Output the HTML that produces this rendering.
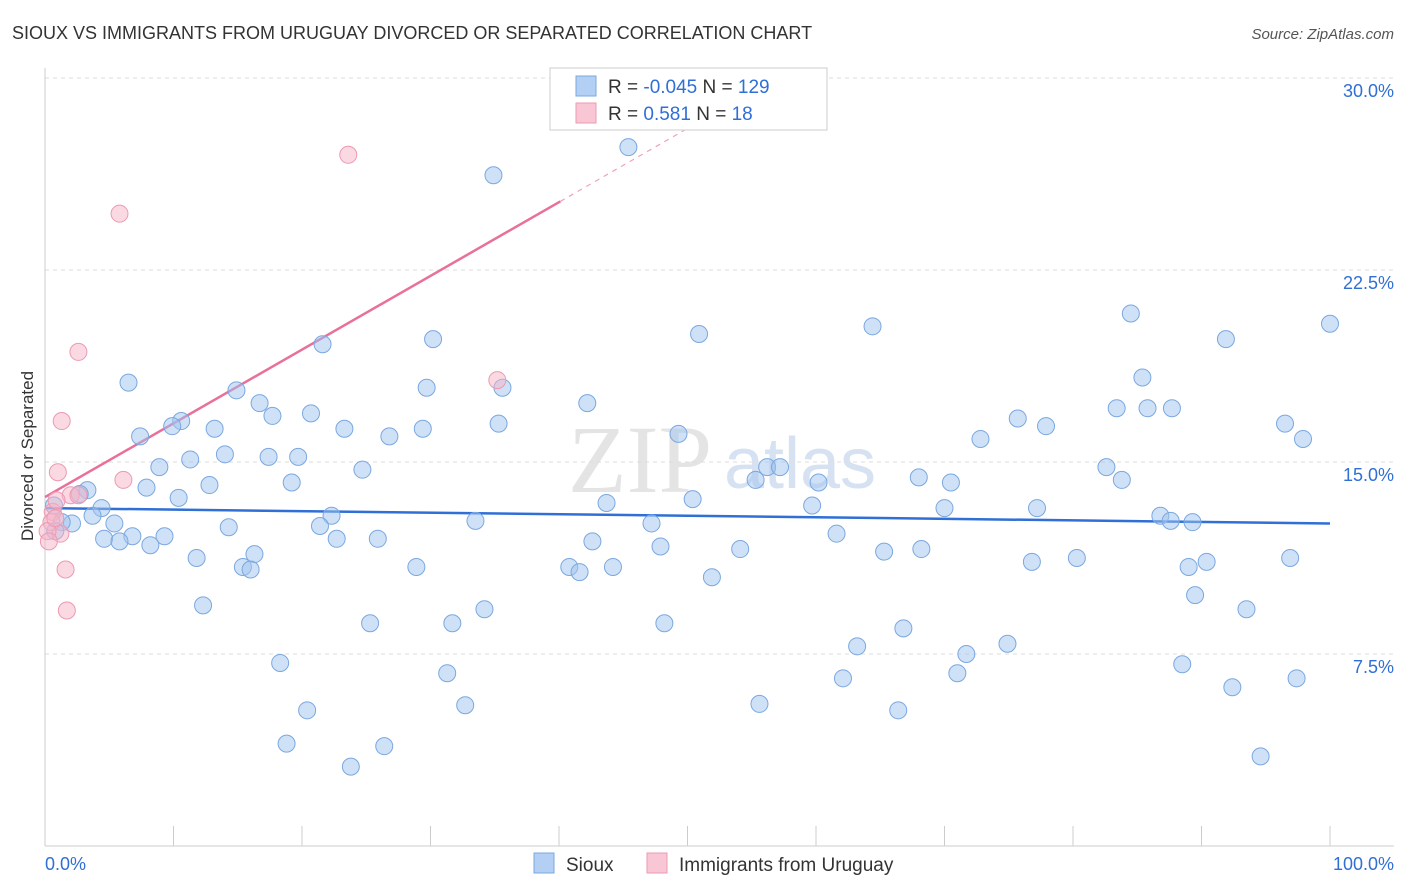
<!DOCTYPE html>
<html><head><meta charset="utf-8">
<style>
body{margin:0;background:#fff;font-family:"Liberation Sans",sans-serif;}
svg{display:block}
</style></head>
<body>
<svg id="chart" width="1406" height="892">
<text x="12" y="39" font-size="18" fill="#333">SIOUX VS IMMIGRANTS FROM URUGUAY DIVORCED OR SEPARATED CORRELATION CHART</text>
<text x="1394" y="39" font-size="15" fill="#555" text-anchor="end" font-style="italic">Source: ZipAtlas.com</text>
<text x="640" y="492" font-size="96" fill="#e4e4e4" font-family="Liberation Serif,serif" text-anchor="middle">ZIP</text>
<text x="800" y="488" font-size="72" fill="#d6e2f2" text-anchor="middle">atlas</text>
<text transform="translate(33,456) rotate(-90)" font-size="17" fill="#333" text-anchor="middle">Divorced or Separated</text>
<g id="grid"></g><g id="axes"></g><g id="trends"></g><g id="pts"></g>
<g>
<rect x="550" y="68" width="277" height="62" fill="#fff" stroke="#ccc"/>
<rect x="576" y="76" width="20" height="20" fill="#b3cff3" stroke="#7aa8e0"/>
<rect x="576" y="103" width="20" height="20" fill="#f8c6d4" stroke="#ec9ab2"/>
<text x="608" y="93" font-size="19" fill="#333">R = <tspan fill="#2f6fd6">-0.045</tspan>    N = <tspan fill="#2f6fd6">129</tspan></text>
<text x="608" y="120" font-size="19" fill="#333">R =    <tspan fill="#2f6fd6">0.581</tspan>    N =   <tspan fill="#2f6fd6">18</tspan></text>
</g>
<g>
<rect x="534" y="853" width="20" height="20" fill="#b3cff3" stroke="#7aa8e0"/>
<text x="566" y="871" font-size="19" fill="#333">Sioux</text>
<rect x="647" y="853" width="20" height="20" fill="#f8c6d4" stroke="#ec9ab2"/>
<text x="679" y="871" font-size="19" fill="#333">Immigrants from Uruguay</text>
</g>
<text x="45" y="870" font-size="18" fill="#2f6fd6">0.0%</text>
<text x="1394" y="870" font-size="18" fill="#2f6fd6" text-anchor="end">100.0%</text>
</svg>
<script>
const yTicks=[7.5,15,22.5,30];
const yTickLabels=["7.5%","15.0%","22.5%","30.0%"];
const xTicks=[0,10,20,30,40,50,60,70,80,90,100];
const siouxX=[45.4,34.9,100,84.5,64.4,50.9,91.9,30.2,21.6,6.5,85.4,29.7,35.6,14.9,16.7,42.2,83.4,85.8,87.7,17.7,20.7,75.7,10.6,9.9,96.5,35.3,77.9,23.3,29.4,13.2,7.4,26.8,49.3,97.9,72.8,14.0,11.3,17.4,19.7,8.9,24.7,56.2,57.2,82.6,68.0,55.3,60.2,70.5,83.8,19.2,12.8,7.9,3.3,2.7,10.4,50.4,43.7,59.7,4.4,70.0,77.2,22.3,3.7,0.7,86.8,87.6,89.3,33.5,5.4,2.1,1.3,47.2,14.3,21.4,0.8,61.6,9.3,6.8,22.7,4.6,25.9,5.8,8.2,42.6,47.9,54.1,65.3,68.2,16.3,11.8,80.3,76.8,96.9,90.4,89.0,28.9,40.8,44.2,15.4,16.0,41.6,51.9,89.5,12.3,34.2,93.5,25.3,31.7,48.2,66.8,63.2,74.9,71.7,18.3,88.5,31.3,71.0,62.1,97.4,92.4,55.6,32.7,20.4,66.4,18.8,26.4,94.6,23.8];
const siouxY=[27.3,26.2,20.4,20.8,20.3,20.0,19.8,19.8,19.6,18.1,18.3,17.9,17.9,17.8,17.3,17.3,17.1,17.1,17.1,16.8,16.9,16.7,16.6,16.4,16.5,16.5,16.4,16.3,16.3,16.3,16.0,16.0,16.1,15.9,15.9,15.3,15.1,15.2,15.2,14.8,14.7,14.8,14.8,14.8,14.4,14.3,14.2,14.2,14.3,14.2,14.1,14.0,13.9,13.75,13.6,13.55,13.4,13.3,13.2,13.2,13.2,12.9,12.9,13.3,12.9,12.7,12.65,12.7,12.6,12.6,12.65,12.6,12.45,12.5,12.3,12.2,12.1,12.1,12.0,12.0,12.0,11.9,11.75,11.9,11.7,11.6,11.5,11.6,11.4,11.25,11.25,11.1,11.25,11.1,10.9,10.9,10.9,10.9,10.9,10.8,10.7,10.5,9.8,9.4,9.25,9.25,8.7,8.7,8.7,8.5,7.8,7.9,7.5,7.15,7.1,6.75,6.75,6.55,6.55,6.2,5.55,5.5,5.3,5.3,4.0,3.9,3.5,3.1];
const uruX=[23.6,5.8,2.6,35.2,1.3,1.0,6.1,2.0,2.6,0.6,0.5,1.2,0.2,0.3,1.6,1.7,0.8,0.9];
const uruY=[27.0,24.7,19.3,18.2,16.6,14.6,14.3,13.7,13.7,13.05,12.65,12.2,12.3,11.9,10.8,9.2,12.8,13.5];
const siouxTrend=[13.2,12.6];      // y at x=0 and x=100
const uruTrend=[13.63,0.288];      // intercept, slope
const uruSolidEnd=40.1, uruDashEnd=51;

const X0=45,X1=1330,Ybase=846,Ytop=78;
const sx=v=>X0+(X1-X0)*v/100;
const sy=v=>Ybase-(Ybase-Ytop)*v/30;
const NS="http://www.w3.org/2000/svg";
function mk(tag,attrs,parent){const e=document.createElementNS(NS,tag);for(const k in attrs)e.setAttribute(k,attrs[k]);document.getElementById(parent).appendChild(e);return e;}

yTicks.forEach((t,i)=>{
  const l=mk('line',{x1:X0,x2:1394,y1:sy(t),y2:sy(t),stroke:'#ddd','stroke-dasharray':'4,4'},'grid');
  
  
  const tx=mk('text',{x:1394,y:sy(t)+19,'font-size':18,fill:'#2f6fd6','text-anchor':'end'},'grid');
  tx.textContent=yTickLabels[i];
  
  
});
const ax=mk('line',{x1:X0,x2:X0,y1:68,y2:Ybase,stroke:'#ccc'},'axes');


const bx=mk('line',{x1:X0,x2:1394,y1:Ybase,y2:Ybase,stroke:'#ccc'},'axes');


xTicks.forEach(t=>{
  const l=mk('line',{x1:sx(t),x2:sx(t),y1:Ybase,y2:Ybase-20,stroke:'#ccc'},'axes');
  
  
});

siouxX.forEach((v,i)=>{
  const c=mk('circle',{cx:sx(v),cy:sy(siouxY[i]),r:8.5,fill:'rgba(160,195,240,0.5)',stroke:'#7aa8e0','stroke-width':1},'pts');
  
  
});
uruX.forEach((v,i)=>{
  const c=mk('circle',{cx:sx(v),cy:sy(uruY[i]),r:8.5,fill:'rgba(245,180,200,0.5)',stroke:'#ec9ab2','stroke-width':1},'pts');
  
  
});
const t1=mk('line',{x1:sx(0),y1:sy(siouxTrend[0]),x2:sx(100),y2:sy(siouxTrend[1]),stroke:'#2f6fd6','stroke-width':2.5},'trends');


const uy=x=>uruTrend[0]+uruTrend[1]*x;
const t2=mk('line',{x1:sx(0),y1:sy(uy(0)),x2:sx(uruSolidEnd),y2:sy(uy(uruSolidEnd)),stroke:'#e8709a','stroke-width':2.5},'trends');


const t3=mk('line',{x1:sx(uruSolidEnd),y1:sy(uy(uruSolidEnd)),x2:sx(uruDashEnd),y2:sy(uy(uruDashEnd)),stroke:'#f0a0bc','stroke-width':1.2,'stroke-dasharray':'5,5'},'trends');


</script>
</body></html>
